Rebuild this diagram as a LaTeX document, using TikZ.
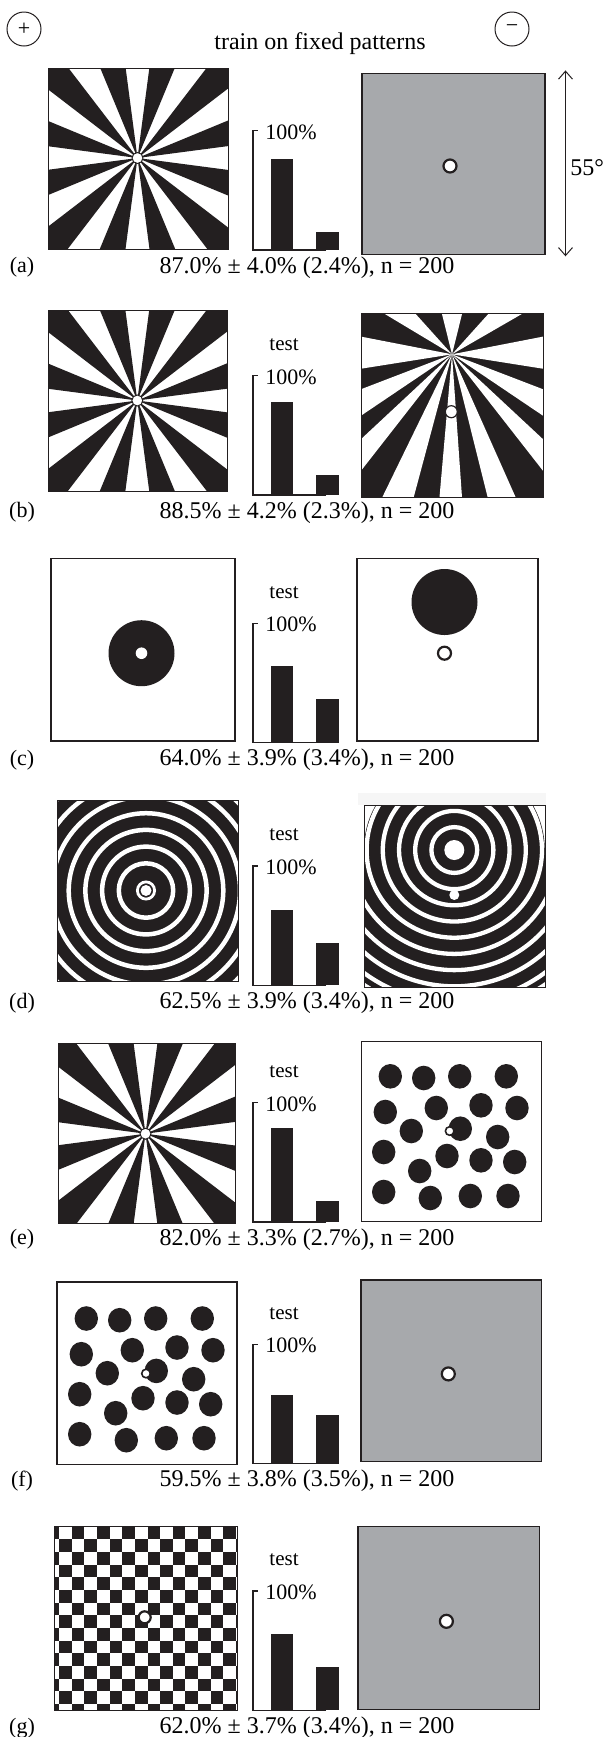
\documentclass[tikz,border=0pt]{standalone}
\usepackage{fontspec}
\setmainfont{Liberation Serif}
\usetikzlibrary{arrows.meta}
\definecolor{ink}{RGB}{35,31,32}
\definecolor{panelgray}{RGB}{167,169,172}

% sunburst: corners (#1,#2) (#3,#4), centre (#5,#6)
\newcommand{\sunburst}[6]{%
  \begin{scope}
    \clip (#1,#2) rectangle (#3,#4);
    \fill[white] (#1,#2) rectangle (#3,#4);
    \foreach \a in {0,30,...,330}
      \fill[ink] (#5,#6) -- +(\a+7.5:260) -- +(\a+22.5:260) -- cycle;
  \end{scope}
  \draw[frame] (#1,#2) rectangle (#3,#4);
  \draw[ink, fill=white, line width=0.5pt] (#5,#6) circle (5.5);
}
% field of dots, top left corner at (#1,#2)
\newcommand{\dotfield}[2]{%
  \foreach \dx/\dy in {29/35, 62.4/36.7, 98.4/35, 145/35, 24/70.7, 75/66.7,
      119.7/64, 155.7/66.7, 50/89.7, 99/87.4, 136.4/95.7, 22.4/110.7,
      85.7/114.7, 119.7/119, 153.4/120.7, 58.4/129.7, 22.4/150.7, 69/156.7,
      109/154.7, 146.7/154.7}
    \fill[ink] ({#1+\dx},{#2+\dy}) ellipse [x radius=11.7, y radius=12.3];
}

\begin{document}
\begin{tikzpicture}[x=0.5pt, y=0.5pt, yscale=-1,
lbl/.style={font=\fontsize{10.5}{12}\selectfont, inner sep=0pt},
bigl/.style={font=\fontsize{12}{14}\selectfont, inner sep=0pt},
frame/.style={draw=ink, line width=0.5pt},
whitebox/.style={draw=ink, fill=white, line width=0.8pt},
graybox/.style={draw=ink, fill=panelgray, line width=0.6pt},
fixdot/.style={draw=ink, fill=white, line width=1.1pt},
axisline/.style={draw=ink, line width=0.6pt},
sign/.style={draw=ink, circle, line width=0.5pt, minimum size=17pt, inner sep=0pt,
  font=\fontsize{11}{12}\selectfont}
]
\useasboundingbox (0,0) rectangle (605,1737);

% header
\node[sign] (plus) at (24,29) {+};
\node[sign] (minus) at (512,29) {−};
\node[bigl] (title) at (320,44) {train on fixed patterns};
\coordinate (scaletop) at (565.5,70.4);
\coordinate (scalebot) at (565.5,256.3);
\draw[ink, line width=0.5pt, {Straight Barb[length=4pt,width=7pt]}-{Straight Barb[length=4pt,width=7pt]}]
  (scaletop) -- (scalebot);
\node[bigl, anchor=west] (angle) at (570,167.5) {55°};

% (a)
\sunburst{48}{68}{228}{249.6}{137.5}{158}
\draw[graybox] (362,73.7) rectangle (545,254.6);
\draw[fixdot] (450,166) circle (6.5);

% (b)
\sunburst{48}{310}{227.9}{491.7}{137.3}{400.5}
\begin{scope}
  \clip (361.3,313.3) rectangle (543.7,497.7);
  \fill[ink] (361.3,313.3) rectangle (543.7,497.7);
  \foreach \a/\b in {351/371, 30/48, 76/104, 132/149, 169/189, 201/214,
      223/232, 244/255, 265/274, 284/294, 308/317, 326/339}
    \fill[white] (452,354.3) -- +(-\a:300) -- +(-\b:300) -- cycle;
\end{scope}
\draw[frame] (361.3,313.3) rectangle (543.7,497.7);
\draw[fixdot, line width=0.6pt] (451.3,411.7) circle (6);

% (c)
\draw[whitebox] (51,558.4) rectangle (234.7,741);
\fill[ink] (141.5,653.2) circle (33);
\fill[white] (141.5,653.2) circle (5.8);
\draw[whitebox] (357,558.4) rectangle (538,741);
\fill[ink] (444.5,602) circle (33);
\draw[fixdot] (444.5,653.2) circle (6.5);

% (d)
\begin{scope}
  \clip (57.3,800.3) rectangle (238.3,981.3);
  \fill[ink] (57.3,800.3) rectangle (238.3,981.3);
  \foreach \k in {0,...,8}
    \draw[white, line width=2.25pt] (146,890.5) circle ({27.2+16.7*\k});
\end{scope}
\fill[white] (146,890.5) circle (5.5);
\draw[white, line width=1.4pt] (146,890.5) circle (8.6);
\draw[frame] (57.3,800.3) rectangle (238.3,981.3);
\fill[gray!7] (358,793) rectangle (546,805);
\begin{scope}
  \clip (364.3,805.7) rectangle (545.7,987.7);
  \fill[ink] (454.3,850) circle (90.5);
  \begin{scope}
    \clip (454.3,850) circle (160);
    \fill[ink] (364.3,850) rectangle (545.7,987.7);
  \end{scope}
  \foreach \k in {0,...,8}
    \draw[white, line width=2.15pt] (454.3,850) circle ({22.9+16.2*\k});
\end{scope}
\fill[white] (454.3,850) circle (10);
\fill[white] (454.3,895) circle (5);
\draw[frame] (364.3,805.7) rectangle (545.7,987.7);

% (e)
\sunburst{58}{1043.5}{235.7}{1223.7}{145.5}{1133.7}
\draw[whitebox] (361.3,1041.3) rectangle (541.3,1221.3);
\dotfield{361.3}{1041.3}
\draw[fixdot, line width=0.8pt] (449.7,1131) circle (4.3);

% (f)
\draw[whitebox] (57,1281.8) rectangle (237,1464.4);
\dotfield{57.3}{1283.5}
\draw[fixdot, line width=0.8pt] (146,1373.5) circle (4.3);
\draw[graybox] (361,1280) rectangle (541.4,1461.7);
\draw[fixdot] (448.3,1373.9) circle (6.5);

% (g)
\begin{scope}
  \clip (54,1526.8) rectangle (237.7,1710);
  \fill[white] (54,1526.8) rectangle (237.7,1710);
  \foreach \i in {0,2,...,14}
    \foreach \j in {0,2,...,14} {
      \fill[ink] ({46.4+\i*12.64},{1526.8+\j*12.64}) rectangle +(12.64,12.64);
      \fill[ink] ({46.4+(\i+1)*12.64},{1526.8+(\j+1)*12.64}) rectangle +(12.64,12.64);
    }
\end{scope}
\draw[frame] (54,1526.8) rectangle (237.7,1710);
\draw[fixdot] (144.7,1617.3) circle (6);
\draw[graybox] (358,1526.8) rectangle (539.4,1709.4);
\draw[fixdot] (446.4,1621.3) circle (6.5);

% bar charts and results
\foreach \p/\yb/\ha/\hb/\res in {
    a/250/91/18/{87.0\% ± 4.0\% (2.4\%), n = 200},
    b/495/93.4/20/{88.5\% ± 4.2\% (2.3\%), n = 200},
    c/742.7/76.4/43.7/{64.0\% ± 3.9\% (3.4\%), n = 200},
    d/985.4/75.4/42.4/{62.5\% ± 3.9\% (3.4\%), n = 200},
    e/1222/93.8/21/{82.0\% ± 3.3\% (2.7\%), n = 200},
    f/1463.7/68.7/48.9/{59.5\% ± 3.8\% (3.5\%), n = 200},
    g/1710.4/76.4/43.9/{62.0\% ± 3.7\% (3.4\%), n = 200}} {
  \draw[axisline] (326,\yb) -- (253,\yb) -- (253,{\yb-119.5}) -- (257.5,{\yb-119.5});
  \fill[ink] (271,\yb) rectangle (293,{\yb-\ha});
  \fill[ink] (315.5,\yb) rectangle (338.5,{\yb-\hb});
  \node[lbl, font=\fontsize{11}{12}\selectfont, anchor=west] (pct-\p) at (265,{\yb-118}) {100\%};
  \node[bigl] (res-\p) at (307,{\yb+17.5}) {\res};
  \node[bigl, font=\fontsize{11}{12}\selectfont] (tag-\p) at (22,{\yb+17.5}) {(\p)};
}
\foreach \p/\yb in {b/495, c/742.7, d/985.4, e/1222, f/1463.7, g/1710.4}
  \node[lbl] (test-\p) at (284,{\yb-150.5}) {test};
\end{tikzpicture}
\end{document}
